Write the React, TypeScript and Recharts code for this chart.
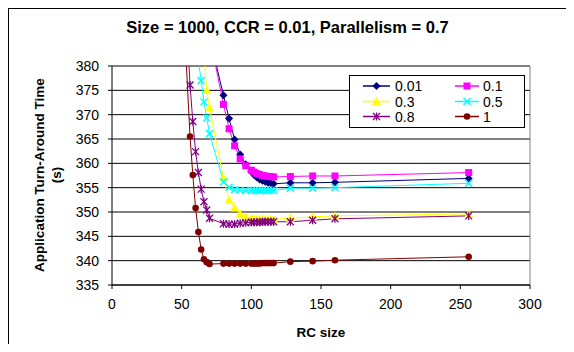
import {
  CartesianGrid,
  Line,
  LineChart,
  ReferenceLine,
  XAxis,
  YAxis,
} from "recharts";

// RC sizes (x). Leading points above 380 only feed the clipped lines.
const rcSize = [
  52, 54, 56, 58, 60, 62, 64, 66, 68, 70, 80, 84, 88, 92, 96, 100, 102, 104,
  106, 108, 110, 112, 114, 116, 128, 144, 160, 256,
];

const turnaround001 = [
  null, null, null, null, null, null, null, null, 392, 386, 374, 369.2, 364.9,
  361.8, 359.8, 358.3, 357.6, 357.1, 356.7, 356.4, 356.2, 356.0, 355.9, 355.8,
  356.0, 356.0, 356.1, 356.9,
];
const turnaround01 = [
  null, null, null, null, null, null, null, null, 393, 386.3, 372.1, 367.1,
  363.6, 360.9, 359.5, 358.6, 358.2, 357.9, 357.7, 357.5, 357.4, 357.3, 357.3,
  357.2, 357.3, 357.4, 357.4, 358.1,
];
const turnaround03 = [
  null, null, null, null, null, null, 390, 382, 375, 371.4, 357, 352.5, 350.8,
  349.6, 349.0, 348.7, 348.6, 348.6, 348.5, 348.5, 348.5, 348.5, 348.5, 348.5,
  348.7, 349.0, 349.2, 349.6,
];
const turnaround05 = [
  null, null, null, null, 388, 381, 377, 372.6, 369.3, 366.1, 356.2, 355.1,
  354.6, 354.5, 354.4, 354.4, 354.4, 354.4, 354.4, 354.4, 354.4, 354.4, 354.4,
  354.4, 354.9, 354.9, 355.0, 355.9,
];
const turnaround08 = [
  null, 387, 376.1, 368.6, 362.4, 358.1, 354.7, 352.1, 350.4, 348.7, 347.6,
  347.5, 347.5, 347.7, 347.8, 347.9, 347.9, 347.9, 347.9, 348.0, 348.0, 348.0,
  348.0, 348.0, 348.0, 348.3, 348.6, 349.2,
];
const turnaround1 = [
  388, null, 365.5, 357.6, 350.8, 345.9, 342.3, 340.3, 339.7, 339.3, 339.4,
  339.4, 339.4, 339.4, 339.4, 339.4, 339.4, 339.4, 339.4, 339.5, 339.5, 339.5,
  339.5, 339.5, 339.8, 339.9, 340.1, 340.8,
];

const xTicks = [0, 50, 100, 150, 200, 250, 300];
const yTicks = [335, 340, 345, 350, 355, 360, 365, 370, 375, 380];

type MarkerKind = "diamond" | "square" | "triangle" | "cross" | "star" | "circle";

const series: { key: string; name: string; color: string; marker: MarkerKind; values: (number | null)[] }[] = [
  { key: "s001", name: "0.01", color: "#000080", marker: "diamond", values: turnaround001 },
  { key: "s01", name: "0.1", color: "#FF00FF", marker: "square", values: turnaround01 },
  { key: "s03", name: "0.3", color: "#FFFF00", marker: "triangle", values: turnaround03 },
  { key: "s05", name: "0.5", color: "#00FFFF", marker: "cross", values: turnaround05 },
  { key: "s08", name: "0.8", color: "#800080", marker: "star", values: turnaround08 },
  { key: "s1", name: "1", color: "#800000", marker: "circle", values: turnaround1 },
];

const data = rcSize.map((x, i) => {
  const row: Record<string, number | null> = { x };
  series.forEach((s) => (row[s.key] = s.values[i]));
  return row;
});

const FONT = '"Liberation Sans", Arial, sans-serif';

function Marker({ kind, color, x, y }: { kind: MarkerKind; color: string; x: number; y: number }) {
  switch (kind) {
    case "diamond":
      return <polygon points={`${x},${y - 4} ${x + 4},${y} ${x},${y + 4} ${x - 4},${y}`} fill={color} />;
    case "square":
      return <rect x={x - 3.5} y={y - 3.5} width={7} height={7} fill={color} />;
    case "triangle":
      return <polygon points={`${x},${y - 4.5} ${x + 4.5},${y + 3.5} ${x - 4.5},${y + 3.5}`} fill={color} />;
    case "cross":
      return (
        <g stroke={color} strokeWidth={1.5}>
          <line x1={x - 3.5} y1={y - 3.5} x2={x + 3.5} y2={y + 3.5} />
          <line x1={x - 3.5} y1={y + 3.5} x2={x + 3.5} y2={y - 3.5} />
        </g>
      );
    case "star":
      return (
        <g stroke={color} strokeWidth={1.3}>
          <line x1={x - 3.5} y1={y - 3.5} x2={x + 3.5} y2={y + 3.5} />
          <line x1={x - 3.5} y1={y + 3.5} x2={x + 3.5} y2={y - 3.5} />
          <line x1={x} y1={y - 4} x2={x} y2={y + 4} />
        </g>
      );
    default:
      return <circle cx={x} cy={y} r={3.3} fill={color} />;
  }
}

const makeDot = (kind: MarkerKind, color: string) => (p: any) => {
  const k = `dot-${p.index}`;
  if (p.cx == null || p.cy == null || p.value == null) return <g key={k} />;
  return (
    <g key={k}>
      <Marker kind={kind} color={color} x={p.cx} y={p.cy} />
    </g>
  );
};

function LegendBox() {
  const cols = [
    { line: [14, 41], text: 46 },
    { line: [106, 130], text: 134 },
  ];
  const rows = [11, 26.5, 41.5];
  return (
    <svg width={176} height={53} style={{ position: "absolute", left: 340, top: 66 }}>
      <rect x={0.5} y={0.5} width={175} height={52} fill="#fff" stroke="#000" />
      {series.map((s, i) => {
        const c = cols[i % 2];
        const y = rows[Math.floor(i / 2)];
        return (
          <g key={s.key}>
            <line x1={c.line[0]} y1={y} x2={c.line[1]} y2={y} stroke={s.color} strokeWidth={1.5} />
            <Marker kind={s.marker} color={s.color} x={(c.line[0] + c.line[1]) / 2} y={y} />
            <text x={c.text} y={y + 5} fontSize={14} fontFamily={FONT} fill="#000">
              {s.name}
            </text>
          </g>
        );
      })}
    </svg>
  );
}

export default function App() {
  return (
    <div
      style={{
        position: "relative",
        width: 558,
        height: 336,
        boxSizing: "border-box",
        borderTop: "1px solid #000",
        borderLeft: "1px solid #000",
        background: "#fff",
        fontFamily: FONT,
        overflow: "hidden",
      }}
    >
      <div
        style={{
          position: "absolute",
          left: 0,
          top: 8,
          width: 557,
          textAlign: "center",
          fontSize: 16.5,
          lineHeight: "20px",
          fontWeight: "bold",
        }}
      >
        Size = 1000, CCR = 0.01, Parallelism = 0.7
      </div>
      <div
        style={{
          position: "absolute",
          left: -61,
          top: 149,
          width: 200,
          height: 34,
          textAlign: "center",
          fontSize: 13.5,
          lineHeight: "17px",
          fontWeight: "bold",
          transform: "rotate(-90deg)",
        }}
      >
        Application Turn-Around Time
        <br />
        (s)
      </div>
      <div
        style={{
          position: "absolute",
          left: 212,
          top: 316,
          width: 200,
          textAlign: "center",
          fontSize: 13.5,
          lineHeight: "16px",
          fontWeight: "bold",
        }}
      >
        RC size
      </div>
      <LineChart
        width={557}
        height={335}
        data={data}
        margin={{ top: 57, right: 36, left: 43, bottom: 29 }}
      >
        <CartesianGrid horizontal vertical={false} stroke="#000" />
        <XAxis
          dataKey="x"
          type="number"
          domain={[0, 300]}
          ticks={xTicks}
          height={30}
          tickSize={4}
          tickMargin={10}
          stroke="#000"
          tick={{ fill: "#000", fontSize: 14, fontFamily: FONT }}
        />
        <YAxis
          type="number"
          domain={[335, 380]}
          allowDataOverflow
          ticks={yTicks}
          width={60}
          tickSize={4}
          tickMargin={9}
          stroke="#000"
          tick={{ fill: "#000", fontSize: 14, fontFamily: FONT }}
        />
        <ReferenceLine x={300} stroke="#808080" />
        {series.map((s) => (
          <Line
            key={s.key}
            dataKey={s.key}
            name={s.name}
            type="linear"
            stroke={s.color}
            strokeWidth={1}
            connectNulls
            dot={makeDot(s.marker, s.color)}
            activeDot={false}
            isAnimationActive={false}
          />
        ))}
      </LineChart>
      <LegendBox />
    </div>
  );
}
